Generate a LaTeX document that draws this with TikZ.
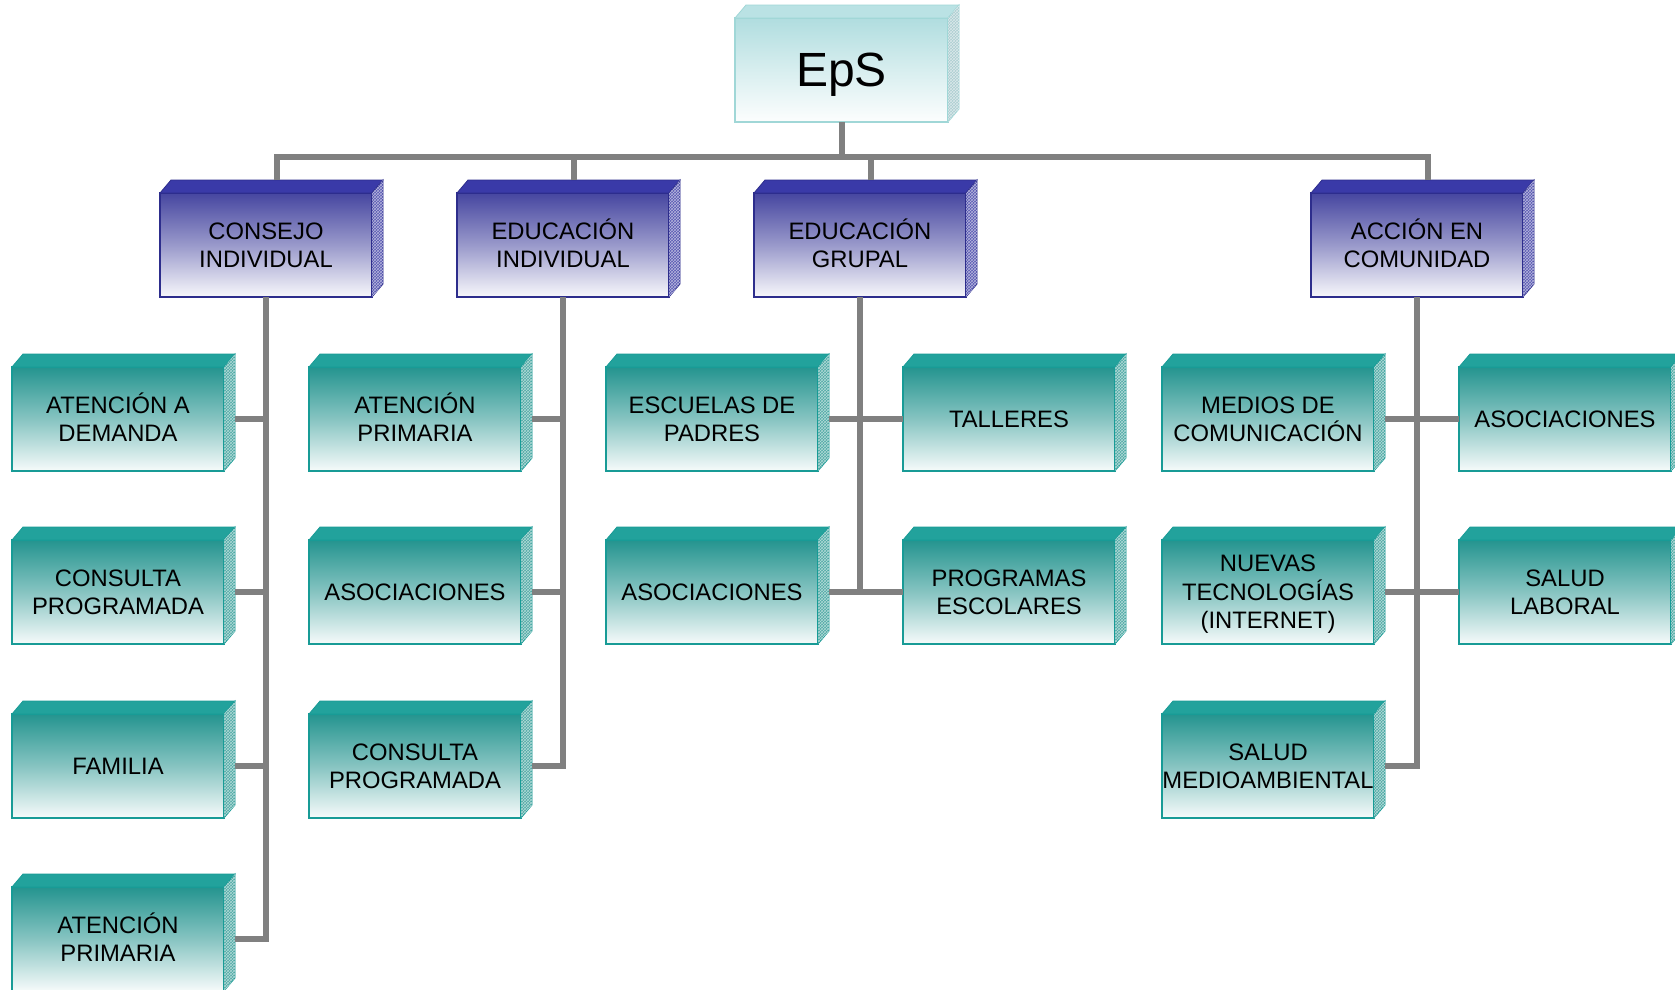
\documentclass[tikz,border=0pt]{standalone}
\usepackage{fontspec}
\setmainfont{Liberation Sans}
\usetikzlibrary{patterns,calc}
\definecolor{tealB}{RGB}{24,155,150}
\definecolor{tealT}{RGB}{36,148,143}
\definecolor{tealTop}{RGB}{34,162,156}
\definecolor{tealSide}{RGB}{80,170,165}
\definecolor{blueB}{RGB}{45,45,140}
\definecolor{blueT}{RGB}{70,70,160}
\definecolor{blueTop}{RGB}{58,58,168}
\definecolor{blueSide}{RGB}{88,88,178}
\definecolor{epsB}{RGB}{160,215,215}
\definecolor{epsT}{RGB}{176,221,223}
\definecolor{epsTop}{RGB}{186,226,228}
\definecolor{epsSide}{RGB}{172,205,208}
\definecolor{connC}{RGB}{128,128,128}
\newcommand\ls{\rule[-5pt]{0pt}{26.3pt}}
\tikzset{
  cubefront/.style={draw, line width=1.4pt, minimum width=212pt, minimum height=104pt,
    inner sep=0pt, outer sep=0pt, anchor=north west, shading=axis},
  tealfront/.style={draw=tealB, top color=tealT, bottom color=white!96!tealT, middle color=white!45!tealT},
  bluefront/.style={draw=blueB, top color=blueT, bottom color=white!96!blueT, middle color=white!45!blueT},
  epsfront/.style={draw=epsB, top color=epsT, bottom color=white!97!epsT, middle color=white!50!epsT, minimum width=213pt},
  tealtopf/.style={fill=tealTop, draw=tealB, line width=0.8pt},
  bluetopf/.style={fill=blueTop, draw=blueB, line width=0.8pt},
  epstopf/.style={fill=epsTop, draw=epsB, line width=0.8pt},
  tealsidef/.style={fill=tealSide, draw=tealB, line width=0.8pt},
  bluesidef/.style={fill=blueSide, draw=blueB, line width=0.8pt},
  epssidef/.style={fill=epsSide, draw=epsB, line width=0.8pt},
  tealpat/.style={pattern=crosshatch, pattern color=white!55!tealSide},
  bluepat/.style={pattern=crosshatch, pattern color=white!55!blueSide},
  epspat/.style={pattern=crosshatch, pattern color=white!55!epsSide},
  cubetext/.style={align=center, inner sep=0pt, font=\fontsize{23.8}{28.3}\selectfont, text=black},
  conn/.style={draw=connC, line width=6pt, line join=miter}
}
\newcommand\cubebox[5]{%
  \node[cubefront,#1front] (#2) at (#3,#4) {};
  \path[#1topf] (#2.north west) -- ++(11,-13) -- ($(#2.north east)+(11,-13)$) -- (#2.north east) -- cycle;
  \path[#1sidef] (#2.north east) -- ++(11,-13) -- ($(#2.south east)+(11,-13)$) -- (#2.south east) -- cycle;
  \path[#1pat] (#2.north east) -- ++(11,-13) -- ($(#2.south east)+(11,-13)$) -- (#2.south east) -- cycle;
  \node[cubetext] (#2-t) at (#2.center) {#5};
}
\begin{document}
\begin{tikzpicture}[x=1pt,y=-1pt]
\useasboundingbox[fill=white] (0,0) rectangle (1675,989);
% root
\cubebox{eps}{eps}{735}{18}{\fontsize{48}{52}\selectfont E\smash{p}S}
% level 1
\cubebox{blue}{l1a}{160}{193}{\ls CONSEJO\\\ls INDIVIDUAL}
\cubebox{blue}{l1b}{457}{193}{\ls EDUCACIÓN\\\ls INDIVIDUAL}
\cubebox{blue}{l1c}{754}{193}{\ls EDUCACIÓN\\\ls GRUPAL}
\cubebox{blue}{l1d}{1311}{193}{\ls ACCIÓN EN\\\ls COMUNIDAD}
% column 1
\cubebox{teal}{a1}{12}{367}{\ls ATENCIÓN A\\\ls DEMANDA}
\cubebox{teal}{a2}{12}{540}{\ls CONSULTA\\\ls PROGRAMADA}
\cubebox{teal}{a3}{12}{714}{\ls FAMILIA}
\cubebox{teal}{a4}{12}{887}{\ls ATENCIÓN\\\ls PRIMARIA}
% column 2
\cubebox{teal}{b1}{309}{367}{\ls ATENCIÓN\\\ls PRIMARIA}
\cubebox{teal}{b2}{309}{540}{\ls ASOCIACIONES}
\cubebox{teal}{b3}{309}{714}{\ls CONSULTA\\\ls PROGRAMADA}
% column 3 and 4
\cubebox{teal}{c1}{606}{367}{\ls ESCUELAS DE\\\ls PADRES}
\cubebox{teal}{c2}{606}{540}{\ls ASOCIACIONES}
\cubebox{teal}{d1}{903}{367}{\ls TALLERES}
\cubebox{teal}{d2}{903}{540}{\ls PROGRAMAS\\\ls ESCOLARES}
% column 5 and 6
\cubebox{teal}{e1}{1162}{367}{\ls MEDIOS DE\\\ls COMUNICACIÓN}
\cubebox{teal}{e2}{1162}{540}{\ls NUEVAS\\\ls TECNOLOGÍAS\\\ls (INTERNET)}
\cubebox{teal}{e3}{1162}{714}{\ls SALUD\\\ls MEDIOAMBIENTAL}
\cubebox{teal}{f1}{1459}{367}{\ls ASOCIACIONES}
\cubebox{teal}{f2}{1459}{540}{\ls SALUD\\\ls LABORAL}
% connectors: root to level 1
\draw[conn] (eps.south) -- ++(0,35);
\draw[conn] ($(l1a.north)+(11,-13)$) -- ++(0,-23) -| ($(l1d.north)+(11,-13)$);
\draw[conn] ($(l1b.north)+(11,-13)$) -- ++(0,-23);
\draw[conn] ($(l1c.north)+(11,-13)$) -- ++(0,-23);
% column 1
\draw[conn] (l1a.south) |- ($(a4.east)+(11,0)$);
\foreach \n in {a1,a2,a3} \draw[conn] ($(\n.east)+(11,0)$) -- (\n.east -| l1a.south);
% column 2
\draw[conn] (l1b.south) |- ($(b3.east)+(11,0)$);
\foreach \n in {b1,b2} \draw[conn] ($(\n.east)+(11,0)$) -- (\n.east -| l1b.south);
% columns 3 and 4
\draw[conn] (l1c.south) -- (l1c.south |- c2.east);
\draw[conn] ($(c1.east)+(11,0)$) -- (d1.west);
\draw[conn] ($(c2.east)+(11,0)$) -- (d2.west);
% columns 5 and 6
\draw[conn] (l1d.south) |- ($(e3.east)+(11,0)$);
\draw[conn] ($(e1.east)+(11,0)$) -- (f1.west);
\draw[conn] ($(e2.east)+(11,0)$) -- (f2.west);
\end{tikzpicture}
\end{document}
